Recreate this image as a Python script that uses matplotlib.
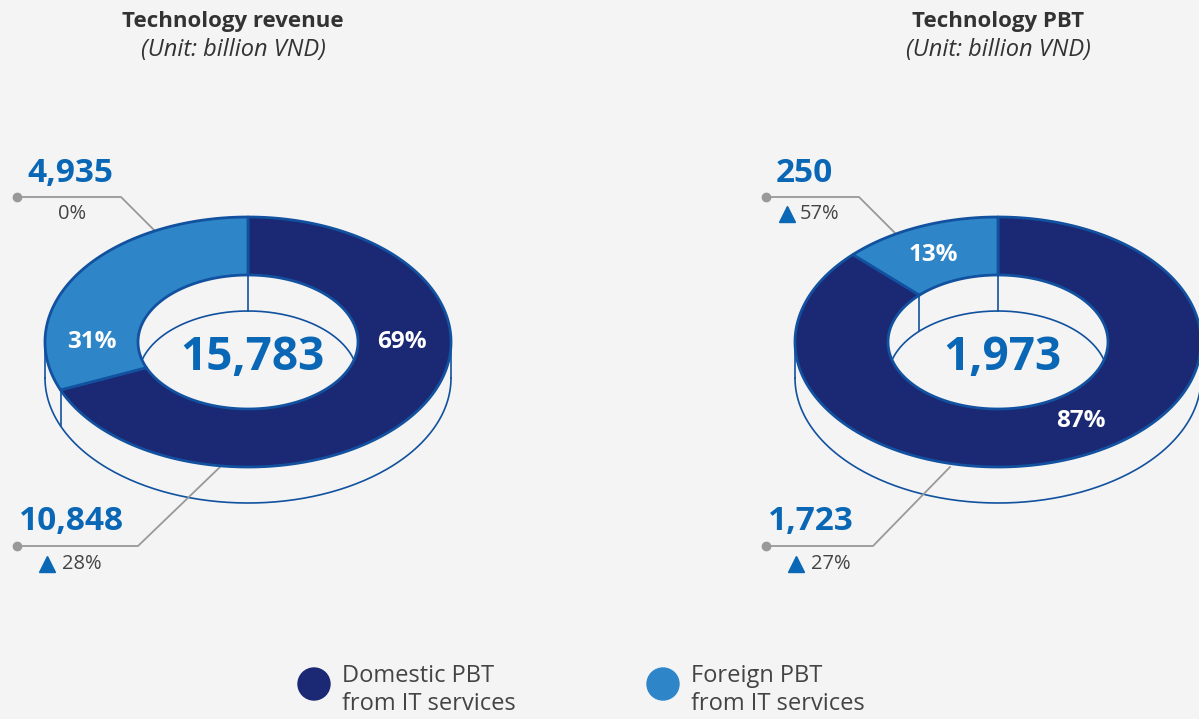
import matplotlib.pyplot as plt
import numpy as np
from matplotlib.patches import Ellipse, Polygon

# data
chart_titles = ["Technology revenue", "Technology PBT"]
unit_label = "(Unit: billion VND)"
domestic_values = [10848, 1723]
foreign_values = [4935, 250]
domestic_growth = ["28%", "27%"]
foreign_growth = ["0%", "57%"]
foreign_growth_up = [False, True]
legend_labels = ["Domestic PBT\nfrom IT services", "Foreign PBT\nfrom IT services"]

DARK = "#1b2873"
LIGHT = "#2e86c8"
EDGE = "#11519f"
NUM = "#0a67b5"
BG = "#f4f4f4"
GRAY = "#999999"
TEXT = "#444444"

plt.rcParams["font.family"] = ["Open Sans", "DejaVu Sans"]

fig = plt.figure(figsize=(11.99, 7.19), dpi=100, facecolor=BG)
ax = fig.add_axes([0, 0, 1, 1])
ax.set_xlim(0, 1199)
ax.set_ylim(719, 0)
ax.axis("off")
ax.set_facecolor(BG)

# layout (pixel coordinates)
centers = [(248, 342), (998, 342)]
RX, RY, IRX, IRY, DEPTH = 203, 125, 110, 67, 36


def pt(cx, cy, rx, ry, th, dy=0):
    th = np.radians(th)
    return cx + rx * np.sin(th), cy - ry * np.cos(th) + dy


def arc(cx, cy, rx, ry, a0, a1, dy=0, n=200):
    th = np.linspace(a0, a1, n)
    x, y = pt(cx, cy, rx, ry, th, dy)
    return np.column_stack([x, y])


def draw_donut(cx, cy, dom, fore):
    share = fore / (dom + fore)
    split = -360 * share  # foreign slice runs counter-clockwise from 12 o'clock
    bounds = [0, split]

    # outer wall (front half)
    xy = arc(cx, cy, RX, RY, 90, 270, DEPTH)
    ax.plot(xy[:, 0], xy[:, 1], color=EDGE, lw=1.2, zorder=1)
    for th in [90, 270] + [b % 360 for b in bounds if 90 < b % 360 < 270]:
        x, y = pt(cx, cy, RX, RY, th)
        ax.plot([x, x], [y, y + DEPTH], color=EDGE, lw=1.2, zorder=1)

    # inner wall (back half, seen through the hole)
    hole = Ellipse((cx, cy), 2 * IRX, 2 * IRY, transform=ax.transData)
    xy = arc(cx, cy, IRX, IRY, -90, 90, DEPTH)
    ln, = ax.plot(xy[:, 0], xy[:, 1], color=EDGE, lw=1.2, zorder=1)
    ln.set_clip_path(hole)
    for b in bounds:
        th = ((b + 180) % 360) - 180
        if -90 < th < 90:
            x, y = pt(cx, cy, IRX, IRY, th)
            ax.plot([x, x], [y, y + DEPTH], color=EDGE, lw=1.2, zorder=1)

    # top surface
    for a0, a1, col in [(0, 360 + split, DARK), (split, 0, LIGHT)]:
        outer = arc(cx, cy, RX, RY, a0, a1)
        inner = arc(cx, cy, IRX, IRY, a1, a0)
        ax.add_patch(Polygon(np.vstack([outer, inner]), closed=True, facecolor=col,
                             edgecolor=EDGE, lw=2, joinstyle="round", zorder=3))


for i, (cx, cy) in enumerate(centers):
    draw_donut(cx, cy, domestic_values[i], foreign_values[i])

    tx = cx - 15 if i == 0 else cx
    ax.text(tx, 21, chart_titles[i], ha="center", va="center",
            fontsize=16, fontweight="bold", color="#333333")
    ax.text(tx, 50, unit_label, ha="center", va="center",
            fontsize=17, fontstyle="italic", color="#333333")

    total = domestic_values[i] + foreign_values[i]
    ax.text(cx + 4, cy + 15, f"{total:,}", ha="center", va="center", fontsize=33,
            fontweight="bold", color=NUM, zorder=5)

    dom_pct = round(100 * domestic_values[i] / total)
    fore_pct = 100 - dom_pct
    if i == 0:
        fpos, dpos = (92, 342), (402, 342)
    else:
        fpos, dpos = (933, 255), (1081, 421)
    ax.text(*fpos, f"{fore_pct}%", ha="center", va="center", fontsize=17.5,
            fontweight="bold", color="white", zorder=5)
    ax.text(*dpos, f"{dom_pct}%", ha="center", va="center", fontsize=17.5,
            fontweight="bold", color="white", zorder=5)

# callouts
dot_x = [17, 766]
knee_top = [121, 859]
end_top = [(154, 230), (895, 233)]
knee_bot = [138, 873]
end_bot = [(220, 467), (950, 467)]
for i in range(2):
    # top (foreign)
    ax.plot([dot_x[i], knee_top[i], end_top[i][0]], [197, 197, end_top[i][1]],
            color=GRAY, lw=1.3, zorder=2)
    ax.plot(dot_x[i], 197, "o", color=GRAY, ms=6, zorder=2)
    ax.text(dot_x[i] + 10, 173, f"{foreign_values[i]:,}", ha="left", va="center",
            fontsize=24, fontweight="bold", color=NUM)
    if foreign_growth_up[i]:
        ax.plot(dot_x[i] + 21, 214, "^", color=NUM, ms=11)
        ax.text(dot_x[i] + 34, 214, foreign_growth[i], ha="left", va="center",
                fontsize=14.5, color=TEXT)
    else:
        ax.text(dot_x[i] + 41, 214, foreign_growth[i], ha="left", va="center",
                fontsize=14.5, color=TEXT)

    # bottom (domestic)
    ax.plot([dot_x[i], knee_bot[i], end_bot[i][0]], [546, 546, end_bot[i][1]],
            color=GRAY, lw=1.3, zorder=2)
    ax.plot(dot_x[i], 546, "o", color=GRAY, ms=6, zorder=2)
    ax.text(dot_x[i] + 2, 522, f"{domestic_values[i]:,}", ha="left", va="center",
            fontsize=24, fontweight="bold", color=NUM)
    ax.plot(dot_x[i] + 30, 564, "^", color=NUM, ms=11)
    ax.text(dot_x[i] + 45, 564, domestic_growth[i], ha="left", va="center",
            fontsize=14.5, color=TEXT)

# legend
for (lx, col), lab in zip([(314, DARK), (663, LIGHT)], legend_labels):
    ax.add_patch(Ellipse((lx, 684), 32, 32, color=col, zorder=3))
    ax.text(lx + 28, 690, lab, ha="left", va="center", fontsize=17,
            color=TEXT, linespacing=1.25)

fig.savefig("out.png", dpi=100, facecolor=BG)
